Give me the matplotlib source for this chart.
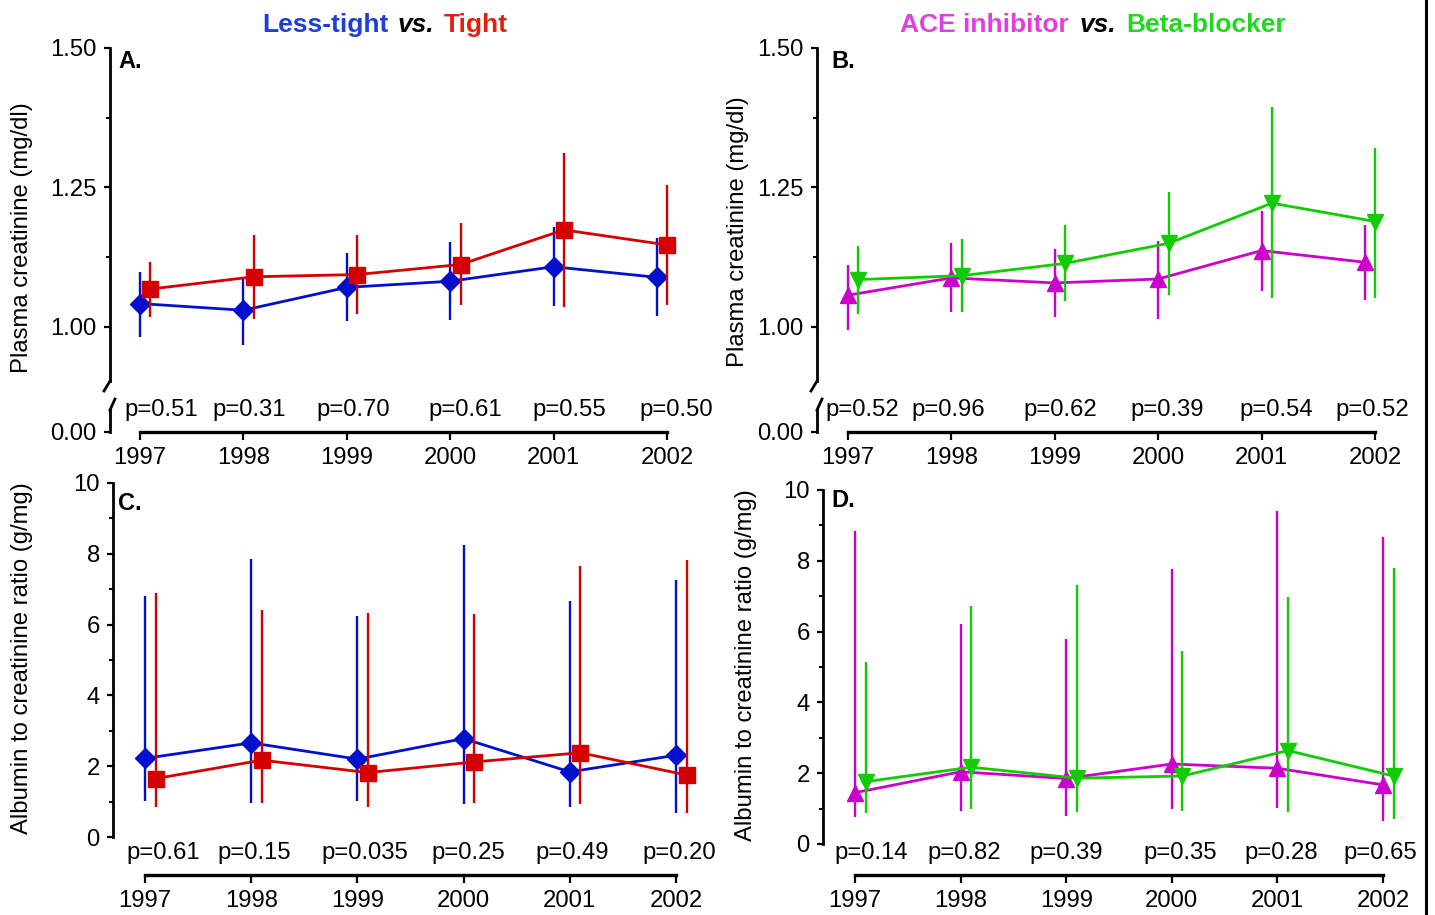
import matplotlib
matplotlib.use('Agg')
import matplotlib.pyplot as plt
from matplotlib.lines import Line2D
from matplotlib.ticker import FixedLocator
import numpy as np

plt.rcParams['font.family'] = ['Liberation Sans', 'DejaVu Sans']

W, H = 1435, 915
DPI = 100

# ---------------- data ----------------
years = [1997, 1998, 1999, 2000, 2001, 2002]
year_labels = ['1997', '1998', '1999', '2000', '2001', '2002']
offset = 0.1  # horizontal shift of the second group

# Panel A: plasma creatinine, Less-tight vs Tight
lesstight_cr_mean = [1.042, 1.030, 1.071, 1.082, 1.108, 1.089]
lesstight_cr_low = [0.982, 0.968, 1.010, 1.012, 1.037, 1.020]
lesstight_cr_high = [1.099, 1.089, 1.133, 1.152, 1.180, 1.159]
tight_cr_mean = [1.068, 1.090, 1.094, 1.112, 1.174, 1.147]
tight_cr_low = [1.018, 1.014, 1.023, 1.040, 1.036, 1.039]
tight_cr_high = [1.116, 1.165, 1.165, 1.186, 1.311, 1.255]
pvals_A = ['p=0.51', 'p=0.31', 'p=0.70', 'p=0.61', 'p=0.55', 'p=0.50']

# Panel B: plasma creatinine, ACE inhibitor vs Beta-blocker
ace_cr_mean = [1.057, 1.088, 1.079, 1.086, 1.137, 1.116]
ace_cr_low = [0.995, 1.027, 1.018, 1.015, 1.065, 1.048]
ace_cr_high = [1.112, 1.150, 1.140, 1.155, 1.208, 1.183]
beta_cr_mean = [1.085, 1.092, 1.114, 1.150, 1.222, 1.189]
beta_cr_low = [1.024, 1.027, 1.046, 1.057, 1.052, 1.052]
beta_cr_high = [1.146, 1.158, 1.182, 1.242, 1.394, 1.320]
pvals_B = ['p=0.52', 'p=0.96', 'p=0.62', 'p=0.39', 'p=0.54', 'p=0.52']

# Panel C: albumin to creatinine ratio, Less-tight vs Tight
lesstight_acr_mean = [2.22, 2.66, 2.20, 2.78, 1.84, 2.31]
lesstight_acr_low = [1.01, 0.96, 1.02, 0.94, 0.85, 0.68]
lesstight_acr_high = [6.81, 7.86, 6.25, 8.24, 6.67, 7.26]
tight_acr_mean = [1.65, 2.17, 1.82, 2.12, 2.38, 1.75]
tight_acr_low = [0.85, 0.96, 0.85, 0.97, 0.92, 0.69]
tight_acr_high = [6.89, 6.40, 6.32, 6.30, 7.66, 7.83]
pvals_C = ['p=0.61', 'p=0.15', 'p=0.035', 'p=0.25', 'p=0.49', 'p=0.20']

# Panel D: albumin to creatinine ratio, ACE inhibitor vs Beta-blocker
ace_acr_mean = [1.45, 2.04, 1.85, 2.26, 2.14, 1.67]
ace_acr_low = [0.77, 0.93, 0.79, 0.98, 1.01, 0.66]
ace_acr_high = [8.85, 6.21, 5.79, 7.76, 9.42, 8.68]
beta_acr_mean = [1.76, 2.17, 1.86, 1.92, 2.64, 1.92]
beta_acr_low = [0.87, 0.98, 0.89, 0.94, 0.91, 0.71]
beta_acr_high = [5.15, 6.72, 7.32, 5.45, 6.99, 7.79]
pvals_D = ['p=0.14', 'p=0.82', 'p=0.39', 'p=0.35', 'p=0.28', 'p=0.65']

# ---------------- style ----------------
BLUE = '#0010cc'
RED = '#d40000'
MAGENTA = '#cc00cc'
GREEN = '#11cc00'
FS = 17.2

fig = plt.figure(figsize=(W / DPI, H / DPI), dpi=DPI)


def fx(x):
    return x / W


def fy(y):
    return 1 - y / H


def add_axes_px(left, top, right, bottom):
    return fig.add_axes([fx(left), fy(bottom), (right - left) / W, (bottom - top) / H])


def pt(px):
    return px * 72.0 / DPI


def set_xlim_px(ax, left_px, right_px, x1997_px, spacing_px):
    ax.set_xlim(1997 - (x1997_px - left_px) / spacing_px,
                1997 + (right_px - x1997_px) / spacing_px)


def series(ax, x, mean, low, high, color, marker, ms, z):
    mean = np.asarray(mean)
    yerr = [mean - np.asarray(low), np.asarray(high) - mean]
    c = ax.errorbar(x, mean, yerr=yerr, color=color, ecolor=color, marker=marker,
                    ms=ms, mfc=color, mec=color, lw=2.0, elinewidth=1.7,
                    capsize=0, zorder=z)
    for a in c.get_children():
        a.set_clip_on(False)


def style_main(ax, x_axis_px_below, tick_pos):
    for s in ['top', 'right']:
        ax.spines[s].set_visible(False)
    ax.spines['left'].set_linewidth(2.0)
    ax.spines['bottom'].set_linewidth(2.4)
    ax.spines['bottom'].set_position(('outward', pt(x_axis_px_below)))
    ax.spines['bottom'].set_bounds(tick_pos[0], tick_pos[-1])
    ax.set_xticks(tick_pos)
    ax.set_xticklabels(year_labels)
    ax.tick_params(axis='x', direction='out', length=5.5, width=1.6,
                   labelsize=FS, pad=5)
    ax.tick_params(axis='y', which='major', direction='out', length=4.5,
                   width=1.6, labelsize=FS, pad=5)
    ax.tick_params(axis='y', which='minor', direction='out', length=2.8,
                   width=1.4)
    ax.patch.set_visible(False)


def zero_segment(ax_main, left, right):
    ax0 = add_axes_px(left, 410, right, 432)
    ax0.set_xlim(ax_main.get_xlim())
    ax0.set_ylim(0, 22 / 558.0)
    for s in ['top', 'right', 'bottom']:
        ax0.spines[s].set_visible(False)
    ax0.spines['left'].set_linewidth(2.0)
    ax0.set_xticks([])
    ax0.set_yticks([0])
    ax0.set_yticklabels(['0.00'])
    ax0.tick_params(axis='y', direction='out', length=4.5, width=1.6, labelsize=FS, pad=5)
    ax0.patch.set_visible(False)
    return ax0


def pvals_text(labels, centers_px, y_px):
    for lab, cx in zip(labels, centers_px):
        fig.text(fx(cx), fy(y_px), lab, ha='center', va='center', fontsize=FS)


x_first = np.array(years, dtype=float)
x_second = x_first + offset
ticks_top = list(x_first[:-1]) + [x_second[-1]]
ticks_bottom = list(x_first)

# ---------------- Panel A ----------------
axA = add_axes_px(110, 48, 715, 381)
set_xlim_px(axA, 110, 715, 140, 103.4)
axA.set_ylim(1.50 - (381 - 48) / 558.0, 1.50)
series(axA, x_first, lesstight_cr_mean, lesstight_cr_low, lesstight_cr_high, BLUE, 'D', 10, 3)
series(axA, x_second, tight_cr_mean, tight_cr_low, tight_cr_high, RED, 's', 11.5, 4)
style_main(axA, 432 - 381, ticks_top)
axA.set_yticks([1.00, 1.25, 1.50])
axA.set_yticklabels(['1.00', '1.25', '1.50'])
axA.yaxis.set_minor_locator(FixedLocator([1.125, 1.375]))
zero_segment(axA, 110, 715)

# ---------------- Panel B ----------------
axB = add_axes_px(817, 48, 1420, 381)
set_xlim_px(axB, 817, 1420, 848, 103.4)
axB.set_ylim(1.50 - (381 - 48) / 558.0, 1.50)
series(axB, x_first, ace_cr_mean, ace_cr_low, ace_cr_high, MAGENTA, '^', 11.5, 3)
series(axB, x_second, beta_cr_mean, beta_cr_low, beta_cr_high, GREEN, 'v', 11.5, 4)
style_main(axB, 432 - 381, ticks_top)
axB.set_yticks([1.00, 1.25, 1.50])
axB.set_yticklabels(['1.00', '1.25', '1.50'])
axB.yaxis.set_minor_locator(FixedLocator([1.125, 1.375]))
zero_segment(axB, 817, 1420)

# break marks
for sx in (110, 817):
    fig.add_artist(Line2D([fx(sx), fx(sx - 6)], [fy(381), fy(391)], color='black',
                          lw=2.0, transform=fig.transFigure))
    fig.add_artist(Line2D([fx(sx), fx(sx + 5)], [fy(410), fy(399)], color='black',
                          lw=2.0, transform=fig.transFigure))

# ---------------- Panel C ----------------
axC = add_axes_px(113, 483, 720, 837)
set_xlim_px(axC, 113, 720, 145, 106.2)
axC.set_ylim(0, 10)
series(axC, x_first, lesstight_acr_mean, lesstight_acr_low, lesstight_acr_high, BLUE, 'D', 10, 3)
series(axC, x_second, tight_acr_mean, tight_acr_low, tight_acr_high, RED, 's', 11.5, 4)
style_main(axC, 875 - 837, ticks_bottom)
axC.set_yticks([0, 2, 4, 6, 8, 10])
axC.yaxis.set_minor_locator(FixedLocator([1, 3, 5, 7, 9]))

# ---------------- Panel D ----------------
axD = add_axes_px(823, 490, 1420, 844)
set_xlim_px(axD, 823, 1420, 855, 105.6)
axD.set_ylim(0, 10)
series(axD, x_first, ace_acr_mean, ace_acr_low, ace_acr_high, MAGENTA, '^', 11.5, 3)
series(axD, x_second, beta_acr_mean, beta_acr_low, beta_acr_high, GREEN, 'v', 11.5, 4)
style_main(axD, 875 - 844, ticks_bottom)
axD.set_yticks([0, 2, 4, 6, 8, 10])
axD.yaxis.set_minor_locator(FixedLocator([1, 3, 5, 7, 9]))

# ---------------- texts ----------------
pvals_text(pvals_A, [161, 249, 353, 465, 569, 676], 410)
pvals_text(pvals_B, [862, 948, 1060, 1167, 1276, 1372], 410)
pvals_text(pvals_C, [163, 254, 365, 468, 572, 679], 853)
pvals_text(pvals_D, [871, 964, 1066, 1180, 1281, 1380], 853)

fig.text(fx(22), fy(238), 'Plasma creatinine (mg/dl)', rotation=90, ha='center', va='center', fontsize=FS)
fig.text(fx(738), fy(232), 'Plasma creatinine (mg/dl)', rotation=90, ha='center', va='center', fontsize=FS)
fig.text(fx(22), fy(658), 'Albumin to creatinine ratio (g/mg)', rotation=90, ha='center', va='center', fontsize=FS)
fig.text(fx(746), fy(665), 'Albumin to creatinine ratio (g/mg)', rotation=90, ha='center', va='center', fontsize=FS)

for lab, x, y in [('A.', 118, 61), ('B.', 831, 61), ('C.', 118, 503), ('D.', 831, 500)]:
    fig.text(fx(x), fy(y), lab, ha='left', va='center', fontsize=17, fontweight='bold')


def multicolor_title(pieces, cx, cy, gap_px=6):
    renderer = fig.canvas.get_renderer()
    texts = []
    for s, color, style in pieces:
        t = fig.text(0, fy(cy), s, color=color, fontsize=19, fontweight='bold',
                     fontstyle=style, ha='left', va='center')
        texts.append(t)
    widths = [t.get_window_extent(renderer).width for t in texts]
    total = sum(widths) + gap_px * (len(texts) - 1)
    x = cx - total / 2.0
    for t, w in zip(texts, widths):
        t.set_x(fx(x))
        x += w + gap_px


multicolor_title([('Less-tight', '#1f3ddb', 'normal'), ('vs.', 'black', 'italic'),
                  ('Tight', '#e41e0c', 'normal')], 385, 25, gap_px=9)
multicolor_title([('ACE inhibitor', '#e03ee0', 'normal'), ('vs.', 'black', 'italic'),
                  ('Beta-blocker', '#1fd81f', 'normal')], 1093, 25, gap_px=10)

# right frame line
fig.add_artist(Line2D([fx(1426), fx(1426)], [0, 1], color='black', lw=2.2,
                      transform=fig.transFigure))

fig.savefig('out.png', dpi=DPI)
